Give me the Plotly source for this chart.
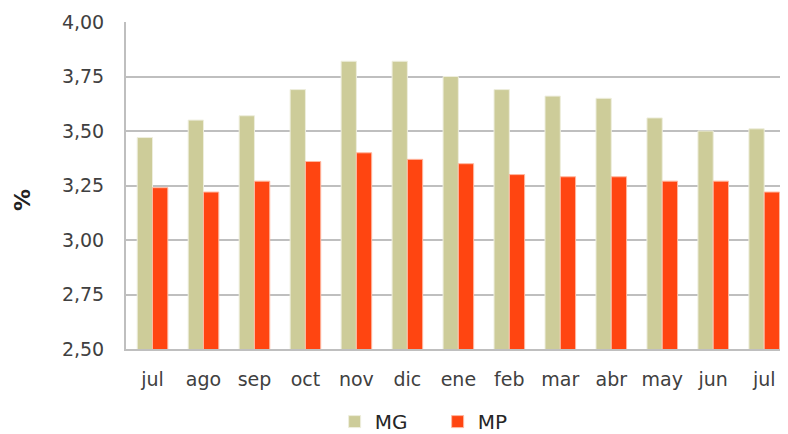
import plotly.graph_objects as go

months = ["jul", "ago", "sep", "oct", "nov", "dic", "ene", "feb", "mar", "abr", "may", "jun", "jul"]
mg = [3.47, 3.55, 3.57, 3.69, 3.82, 3.82, 3.75, 3.69, 3.66, 3.65, 3.56, 3.50, 3.51]
mp = [3.24, 3.22, 3.27, 3.36, 3.40, 3.37, 3.35, 3.30, 3.29, 3.29, 3.27, 3.27, 3.22]
y_ticks = [2.50, 2.75, 3.00, 3.25, 3.50, 3.75, 4.00]

x = list(range(len(months)))
font = "DejaVu Sans"
fs = 19

fig = go.Figure()
fig.add_bar(x=x, y=mg, name="MG", marker=dict(color="#CDCC99", line=dict(color="#EEEEDD", width=1)))
fig.add_bar(x=x, y=mp, name="MP", marker=dict(color="#FF4511", line=dict(color="#FFB8A0", width=1)))

# page has an 8px body margin: figure is 780x426 so it ends at the window edge
fig.update_layout(
    width=780, height=426,
    margin=dict(l=118, r=8, t=14, b=85, autoexpand=False),
    paper_bgcolor="white", plot_bgcolor="white",
    separators=",.",
    barmode="group", bargap=0.4, bargroupgap=0,
    font=dict(family=font, size=fs, color="#404040"),
    showlegend=True,
    legend=dict(orientation="h", x=0.319, xanchor="left", y=-0.222, yanchor="middle",
                font=dict(size=20, color="#262626"), itemwidth=30, traceorder="normal",
                entrywidth=58, bgcolor="rgba(0,0,0,0)"),
)
fig.update_xaxes(
    tickvals=x, ticktext=months, range=[-0.52, 12.31], automargin=False,
    showline=True, linecolor="#BFBFBF", linewidth=2, showgrid=False,
    ticks="", tickfont=dict(size=fs, color="#404040"), ticklabelstandoff=12,
)
fig.update_yaxes(
    range=[2.5, 4.0], tickvals=y_ticks, tickformat=".2f", automargin=False,
    showline=True, linecolor="#BFBFBF", linewidth=2,
    showgrid=True, gridcolor="#BFBFBF", gridwidth=1.5,
    ticks="", tickfont=dict(size=fs, color="#404040"), ticklabelstandoff=16,
)
fig.add_annotation(text="<b>%</b>", xref="paper", yref="paper", x=-0.1575, y=0.4557,
                   xanchor="center", yanchor="middle",
                   textangle=-90, showarrow=False, font=dict(family=font, size=22, color="#222222"))

fig.write_html("out.html")
